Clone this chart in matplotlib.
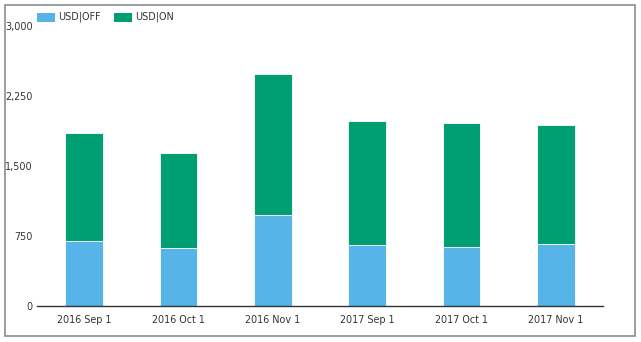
import matplotlib
matplotlib.use("Agg")
import matplotlib.pyplot as plt
from matplotlib.patches import Rectangle
import numpy as np

categories = ["2016 Sep 1", "2016 Oct 1", "2016 Nov 1", "2017 Sep 1", "2017 Oct 1", "2017 Nov 1"]
series_names = ["USD|OFF", "USD|ON"]
usd_off = [697, 622, 975, 654, 632, 664]
usd_totals = [1860, 1646, 2493, 1989, 1968, 1946]
usd_on = [t - o for t, o in zip(usd_totals, usd_off)]
y_ticks = [0, 750, 1500, 2250, 3000]

c_off = "#56B4E9"
c_on = "#009E73"
txt = "#333333"

W, H = 641, 342
fig = plt.figure(figsize=(W / 100, H / 100), dpi=100)
fig.patch.set_facecolor("white")

# outer frame
fig.patches.append(Rectangle((4.5 / W, (H - 336) / H), (635 - 4.5) / W, (336 - 5) / H,
                             transform=fig.transFigure, fill=False, edgecolor="#8c8c8c", linewidth=1.2))

ax = fig.add_axes([37 / W, (H - 306.3) / H, (603 - 37) / W, (306.3 - 26.4) / H])
x = np.arange(len(categories))
ax.bar(x, usd_off, width=0.40, color=c_off, edgecolor="white", linewidth=0.6)
ax.bar(x, usd_on, bottom=usd_off, width=0.40, color=c_on, edgecolor="white", linewidth=0.6)

ax.set_xlim(-0.5, len(categories) - 0.5)
ax.set_ylim(0, 3000)
ax.set_yticks(y_ticks)
ax.set_yticklabels([f"{v:,}" for v in y_ticks])
ax.set_xticks(x)
ax.set_xticklabels(categories)
ax.tick_params(axis="both", length=0, labelsize=6.9, colors=txt)
ax.tick_params(axis="x", pad=6)
ax.tick_params(axis="y", pad=3)
for s in ["top", "right", "left"]:
    ax.spines[s].set_visible(False)
ax.spines["bottom"].set_color("#333333")
ax.spines["bottom"].set_linewidth(1.0)

# legend
for (x0, x1, tx), name, col in zip([(37, 55, 58), (114, 132, 135)], series_names, [c_off, c_on]):
    fig.patches.append(Rectangle((x0 / W, (H - 21.7) / H), (x1 - x0) / W, 9 / H,
                                 transform=fig.transFigure, facecolor=col, edgecolor="none"))
    fig.text(tx / W, (H - 17.2) / H, name, fontsize=6.9, color=txt, va="center", ha="left")

fig.savefig("out.png", dpi=100)
